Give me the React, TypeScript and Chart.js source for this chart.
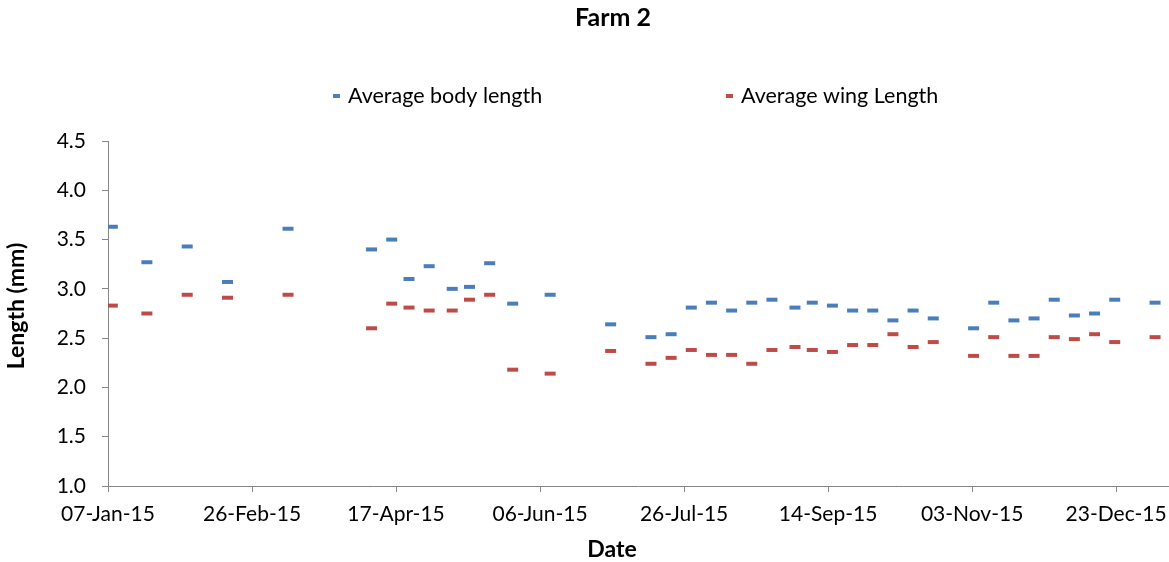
import React, { useEffect, useRef } from "react";
import { Chart, registerables } from "chart.js";

Chart.register(...registerables);

// ---------- data ----------
const chartTitle = "Farm 2";
const seriesNames = ["Average body length", "Average wing Length"];
const seriesColors = ["#4A7EBB", "#BE4B48"];
const xAxisTitle = "Date";
const yAxisTitle = "Length (mm)";

const axisStartDate = "2015-01-07";
const axisEndDay = 368; // days after start
const xTickStepDays = 50;
const xTickCount = 8;
const yMin = 1.0;
const yMax = 4.5;
const yStep = 0.5;

const sampleDates = [
  "2015-01-08", "2015-01-20", "2015-02-03", "2015-02-17", "2015-03-10",
  "2015-04-08", "2015-04-15", "2015-04-21", "2015-04-28", "2015-05-06",
  "2015-05-12", "2015-05-19", "2015-05-27", "2015-06-09", "2015-06-30",
  "2015-07-14", "2015-07-21", "2015-07-28", "2015-08-04", "2015-08-11",
  "2015-08-18", "2015-08-25", "2015-09-02", "2015-09-08", "2015-09-15",
  "2015-09-22", "2015-09-29", "2015-10-06", "2015-10-13", "2015-10-20",
  "2015-11-03", "2015-11-10", "2015-11-17", "2015-11-24", "2015-12-01",
  "2015-12-08", "2015-12-15", "2015-12-22", "2016-01-05",
];

const bodyLength = [
  3.63, 3.27, 3.43, 3.07, 3.61,
  3.40, 3.50, 3.10, 3.23, 3.00,
  3.02, 3.26, 2.85, 2.94, 2.64,
  2.51, 2.54, 2.81, 2.86, 2.78,
  2.86, 2.89, 2.81, 2.86, 2.83,
  2.78, 2.78, 2.68, 2.78, 2.70,
  2.60, 2.86, 2.68, 2.70, 2.89,
  2.73, 2.75, 2.89, 2.86,
];

const wingLength = [
  2.83, 2.75, 2.94, 2.91, 2.94,
  2.60, 2.85, 2.81, 2.78, 2.78,
  2.89, 2.94, 2.18, 2.14, 2.37,
  2.24, 2.30, 2.38, 2.33, 2.33,
  2.24, 2.38, 2.41, 2.38, 2.36,
  2.43, 2.43, 2.54, 2.41, 2.46,
  2.32, 2.51, 2.32, 2.32, 2.51,
  2.49, 2.54, 2.46, 2.51,
];

const monthNames = ["Jan", "Feb", "Mar", "Apr", "May", "Jun", "Jul", "Aug", "Sep", "Oct", "Nov", "Dec"];

// ---------- helpers ----------
const DAY_MS = 86400000;
const parseISO = (s: string) => {
  const [y, m, d] = s.split("-").map(Number);
  return Date.UTC(y, m - 1, d);
};
const startMs = parseISO(axisStartDate);
// points sit in the middle of their day (date axis "between tick marks")
const dayOffset = (s: string) => Math.round((parseISO(s) - startMs) / DAY_MS) + 0.5;
const formatDay = (v: number) => {
  const d = new Date(startMs + v * DAY_MS);
  const dd = String(d.getUTCDate()).padStart(2, "0");
  const yy = String(d.getUTCFullYear()).slice(2);
  return `${dd}-${monthNames[d.getUTCMonth()]}-${yy}`;
};

const FONT = "Lato, 'Open Sans', sans-serif";
const TICK_SIZE = 21;
const AXIS_TITLE_SIZE = 23;
const LEGEND_SIZE = 21.5;
const TITLE_SIZE = 25;
const AXIS_COLOR = "#868686";

const overlayPlugin = {
  id: "overlay",
  afterDraw(chart: any) {
    const ctx = chart.ctx as CanvasRenderingContext2D;
    ctx.save();
    ctx.fillStyle = "#000";
    ctx.textBaseline = "alphabetic";
    ctx.textAlign = "center";
    ctx.font = `bold ${TITLE_SIZE}px ${FONT}`;
    ctx.fillText(chartTitle, 613, 26);

    // axis titles
    ctx.font = `bold ${AXIS_TITLE_SIZE}px ${FONT}`;
    ctx.fillText(xAxisTitle, 612, 557);
    ctx.save();
    ctx.translate(24, 306);
    ctx.rotate(-Math.PI / 2);
    ctx.fillText(yAxisTitle, 0, 0);
    ctx.restore();

    // legend
    const legendX = [333, 726];
    ctx.textAlign = "left";
    ctx.font = `${LEGEND_SIZE}px ${FONT}`;
    seriesNames.forEach((name, i) => {
      ctx.fillStyle = seriesColors[i];
      ctx.fillRect(legendX[i], 94, 7, 4);
      ctx.fillStyle = "#000";
      ctx.fillText(name, legendX[i] + 15, 103);
    });
    ctx.restore();
  },
};

export default function App() {
  const canvasRef = useRef<HTMLCanvasElement | null>(null);

  useEffect(() => {
    document.body.style.margin = "0";
    const canvas = canvasRef.current;
    if (!canvas) return;

    const days = sampleDates.map(dayOffset);
    const makeData = (vals: number[]) => vals.map((v, i) => ({ x: days[i], y: v }));

    const chart = new Chart(canvas, {
      type: "scatter",
      data: {
        datasets: [
          {
            label: seriesNames[0],
            data: makeData(bodyLength),
            borderColor: seriesColors[0],
            backgroundColor: seriesColors[0],
            pointStyle: "line",
            pointRadius: 5.5,
            pointBorderWidth: 4,
            showLine: false,
          },
          {
            label: seriesNames[1],
            data: makeData(wingLength),
            borderColor: seriesColors[1],
            backgroundColor: seriesColors[1],
            pointStyle: "line",
            pointRadius: 5.5,
            pointBorderWidth: 4,
            showLine: false,
          },
        ],
      },
      options: {
        responsive: false,
        animation: false,
        events: [],
        layout: { autoPadding: false, padding: { top: 141, right: 1, bottom: 0, left: 0 } },
        plugins: {
          legend: { display: false },
          title: { display: false },
          tooltip: { enabled: false },
        },
        scales: {
          x: {
            type: "linear",
            min: 0,
            max: axisEndDay,
            afterBuildTicks: (axis: any) => {
              axis.ticks = Array.from({ length: xTickCount }, (_, i) => ({ value: i * xTickStepDays }));
            },
            afterFit: (scale: any) => {
              scale.height = 76;
              scale.paddingLeft = 0;
              scale.paddingRight = 0;
            },
            ticks: {
              stepSize: xTickStepDays,
              autoSkip: false,
              maxRotation: 0,
              padding: 10,
              color: "#000",
              font: { family: FONT, size: TICK_SIZE },
              callback: (v: any) => formatDay(Number(v)),
            },
            grid: {
              display: true,
              drawOnChartArea: false,
              drawTicks: true,
              tickLength: 6,
              color: AXIS_COLOR,
            },
            border: { display: true, color: AXIS_COLOR, width: 1 },
            title: { display: false },
          },
          y: {
            type: "linear",
            min: yMin,
            max: yMax,
            afterFit: (scale: any) => {
              scale.width = 108;
            },
            ticks: {
              stepSize: yStep,
              padding: 16,
              color: "#000",
              font: { family: FONT, size: TICK_SIZE },
              callback: (v: any) => Number(v).toFixed(1),
            },
            grid: {
              display: true,
              drawOnChartArea: false,
              drawTicks: true,
              tickLength: 6,
              color: AXIS_COLOR,
            },
            border: { display: true, color: AXIS_COLOR, width: 1 },
            title: { display: false },
          },
        },
      },
      plugins: [overlayPlugin],
    } as any);

    return () => chart.destroy();
  }, []);

  return (
    <div style={{ width: 1169, height: 562, background: "#fff" }}>
      <canvas ref={canvasRef} width={1169} height={562} style={{ display: "block" }} />
    </div>
  );
}
